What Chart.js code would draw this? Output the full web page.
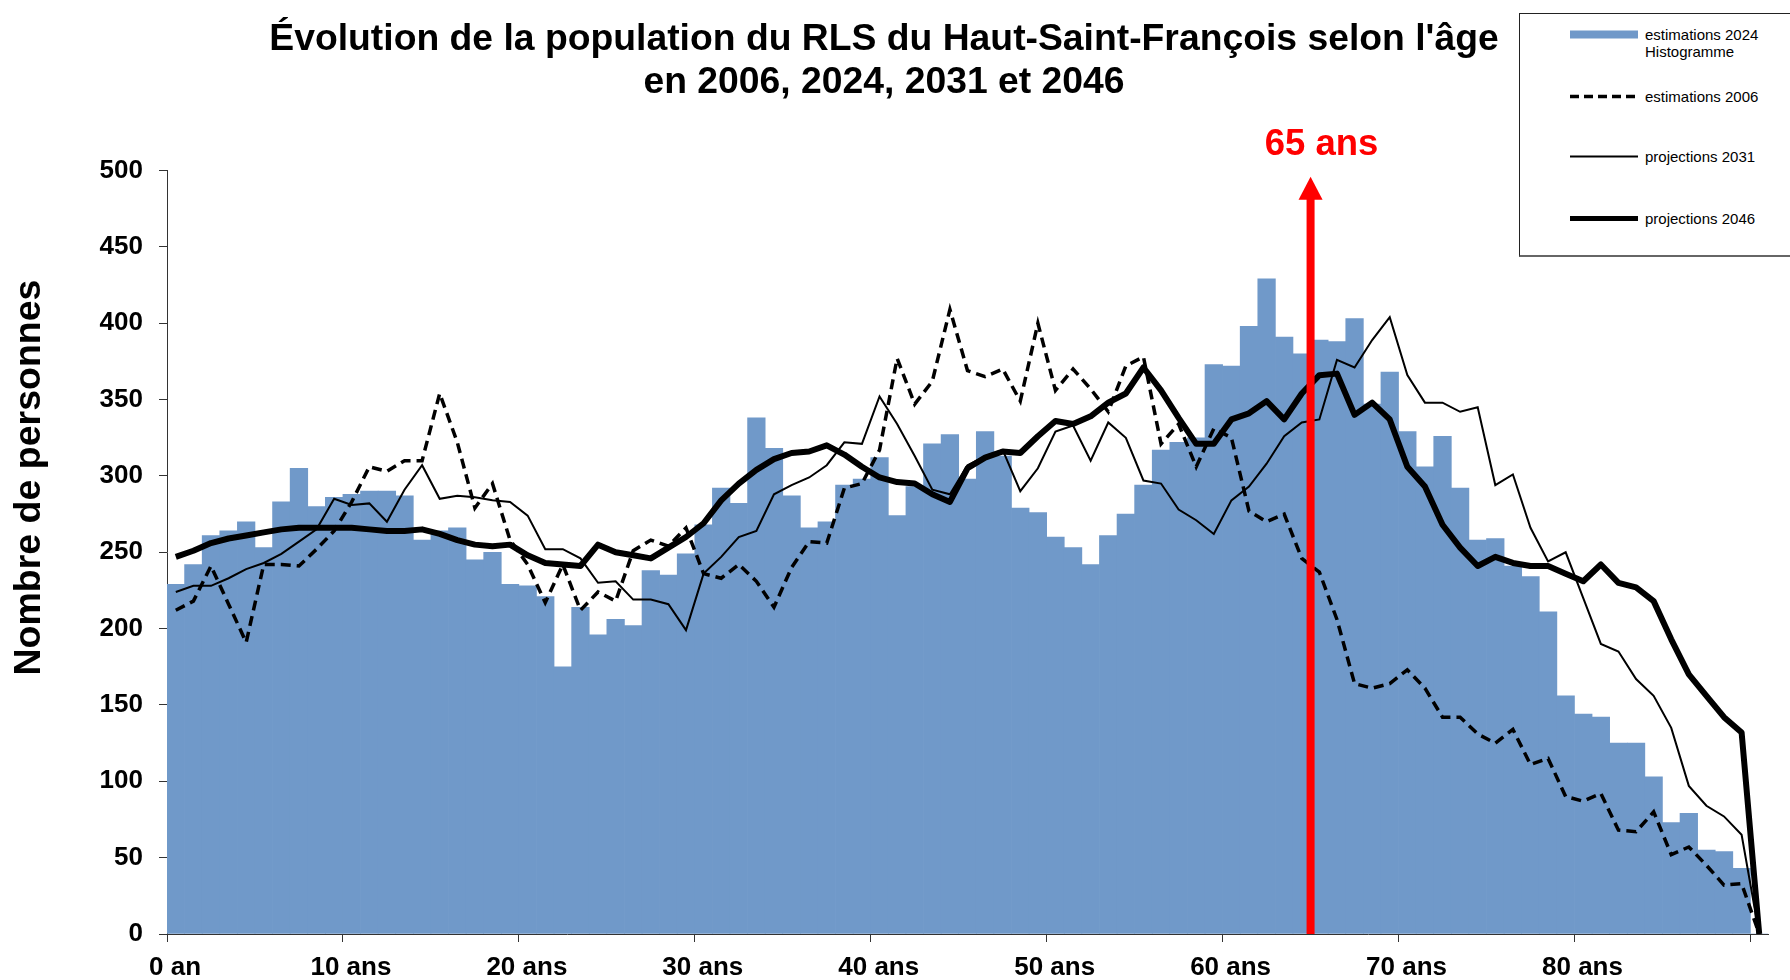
<!DOCTYPE html>
<html lang="fr">
<head>
<meta charset="utf-8">
<title>Évolution de la population du RLS du Haut-Saint-François</title>
<script src="https://cdn.jsdelivr.net/npm/chart.js@4.4.1/dist/chart.umd.min.js"></script>
<style>
  html, body { margin: 0; padding: 0; background: #fff; }
  #wrap { position: relative; width: 1790px; height: 980px; overflow: hidden; }
  #chart { position: absolute; left: 0; top: 0; }
  .legend {
    position: absolute; left: 1519px; top: 13px; width: 300px; height: 241px;
    border: 1px solid #222; border-bottom: 2px solid #666; background: #fff;
    font-family: "Liberation Sans", Arial, sans-serif; font-size: 15px; color: #000;
  }
  .legend .item { position: absolute; left: 50px; height: 17px; line-height: 17px; white-space: nowrap; }
  .legend svg { position: absolute; left: 0; top: 0; }
  .legend span { position: absolute; left: 75px; top: 0; }
</style>
</head>
<body>
<div id="wrap">
  <canvas id="chart" width="1790" height="980"></canvas>
  <div class="legend">
    <div class="item" style="top:12px">
      <svg width="68" height="17"><rect x="0" y="4.5" width="68" height="8" fill="#7099C9"/></svg>
      <span>estimations 2024<br>Histogramme</span>
    </div>
    <div class="item" style="top:74px">
      <svg width="68" height="17"><line x1="0" y1="8.5" x2="68" y2="8.5" stroke="#000" stroke-width="3.5" stroke-dasharray="9 5"/></svg>
      <span>estimations 2006</span>
    </div>
    <div class="item" style="top:134px">
      <svg width="68" height="17"><line x1="0" y1="8.5" x2="68" y2="8.5" stroke="#000" stroke-width="2"/></svg>
      <span>projections 2031</span>
    </div>
    <div class="item" style="top:196px">
      <svg width="68" height="17"><line x1="0" y1="8.5" x2="68" y2="8.5" stroke="#000" stroke-width="5"/></svg>
      <span>projections 2046</span>
    </div>
  </div>
</div>
<script>
// ages (one bar / one point per year of age)
const ages = [0,1,2,3,4,5,6,7,8,9,10,11,12,13,14,15,16,17,18,19,20,21,22,23,24,25,26,27,28,29,
  30,31,32,33,34,35,36,37,38,39,40,41,42,43,44,45,46,47,48,49,50,51,52,53,54,55,56,57,58,59,
  60,61,62,63,64,65,66,67,68,69,70,71,72,73,74,75,76,77,78,79,80,81,82,83,84,85,86,87,88,89,90];

// estimations 2024 (histogramme)
const pop2024 = [229,242,261,264,270,253,283,305,280,286,288,290,290,287,258,264,266,245,250,229,
  228,221,175,214,196,206,202,238,235,249,268,292,282,338,318,287,266,270,294,298,
  312,274,293,321,327,298,329,313,279,276,260,253,242,261,275,294,317,322,325,373,
  372,398,429,391,380,389,388,403,347,368,329,306,326,292,258,259,241,234,211,156,
  144,142,125,125,103,73,79,55,54,43,0];

// estimations 2006
const pop2006 = [212,218,241,216,191,242,242,241,252,264,283,306,303,310,310,354,322,279,295,258,
  242,217,242,212,224,218,251,258,254,266,236,233,242,231,214,240,257,256,292,295,
  317,377,347,362,409,369,365,370,349,400,356,370,357,342,372,378,321,334,306,331,
  325,277,270,275,246,237,206,164,161,164,173,161,142,142,131,125,134,111,115,90,
  87,92,68,67,80,52,57,45,32,33,0];

// projections 2031
const pop2031 = [224,228,228,233,239,243,249,257,265,285,281,282,270,291,307,285,287,286,284,283,
  274,252,252,246,230,231,219,219,216,199,236,247,260,264,288,294,299,307,322,321,
  352,334,313,291,288,307,313,317,290,305,329,333,310,335,325,297,295,278,271,262,
  284,293,308,326,335,337,376,371,389,404,366,348,348,342,345,294,301,266,244,250,
  220,190,185,167,156,135,97,84,77,65,0];

// projections 2046
const pop2046 = [247,251,256,259,261,263,265,266,266,266,266,265,264,264,265,262,258,255,254,255,
  248,243,242,241,255,250,248,246,253,260,269,284,295,304,311,315,316,320,314,306,
  299,296,295,288,283,305,312,316,315,326,336,334,339,348,354,371,356,338,321,321,
  337,341,349,337,354,366,367,340,348,337,306,293,268,253,241,247,243,241,241,236,
  231,242,230,227,218,193,170,156,142,132,0];

const xTickValues = [0,10,20,30,40,50,60,70,80,90];
const xTickLabels = ['0 an','10 ans','20 ans','30 ans','40 ans','50 ans','60 ans','70 ans','80 ans',''];
const yMin = 0, yMax = 500, yStep = 50;

const arrowAge = 65;
const arrowTopValue = 496;
const arrowLabel = '65 ans';
const yTitle = 'Nombre de personnes';

const FONT = '"Liberation Sans", Arial, sans-serif';
Chart.defaults.font.family = FONT;
Chart.defaults.color = '#000';

const toPoints = (vals) => ages.map((a, i) => ({ x: a + 0.5, y: vals[i] }));

// fleche rouge + texte "65 ans" + titre de l'axe Y
const extras = {
  id: 'extras',
  afterDatasetsDraw(chart) {
    const { ctx, scales: { x, y } } = chart;
    const px = x.getPixelForValue(arrowAge);
    const yBase = y.getPixelForValue(0);
    const yTip = y.getPixelForValue(arrowTopValue);
    ctx.save();
    ctx.fillStyle = '#ff0000';
    ctx.fillRect(px - 4, yTip + 20, 8, yBase - yTip - 20);
    ctx.beginPath();
    ctx.moveTo(px, yTip);
    ctx.lineTo(px + 12, yTip + 23);
    ctx.lineTo(px - 12, yTip + 23);
    ctx.closePath();
    ctx.fill();
    ctx.font = 'bold 36.5px ' + FONT;
    ctx.textAlign = 'center';
    ctx.textBaseline = 'middle';
    ctx.fillText(arrowLabel, px + 11, yTip - 32);

    ctx.fillStyle = '#000';
    ctx.font = 'bold 37.5px ' + FONT;
    ctx.translate(30, chart.chartArea.top + 307);
    ctx.rotate(-Math.PI / 2);
    ctx.fillText(yTitle, 0, 0);
    ctx.restore();
  }
};

new Chart(document.getElementById('chart'), {
  type: 'bar',
  data: {
    datasets: [
      {
        type: 'line',
        label: 'projections 2046',
        data: toPoints(pop2046),
        borderColor: '#000',
        borderWidth: 6,
        borderJoinStyle: 'round',
        pointRadius: 0,
        tension: 0,
        order: 1,
      },
      {
        type: 'line',
        label: 'projections 2031',
        data: toPoints(pop2031),
        borderColor: '#000',
        borderWidth: 2,
        pointRadius: 0,
        tension: 0,
        order: 2,
      },
      {
        type: 'line',
        label: 'estimations 2006',
        data: toPoints(pop2006),
        borderColor: '#000',
        borderWidth: 3.5,
        borderDash: [10, 6],
        pointRadius: 0,
        tension: 0,
        order: 3,
      },
      {
        type: 'bar',
        label: 'estimations 2024 Histogramme',
        data: toPoints(pop2024),
        backgroundColor: '#7099C9',
        borderWidth: 0,
        barPercentage: 1,
        categoryPercentage: 1,
        order: 10,
      },
    ],
  },
  options: {
    responsive: false,
    animation: false,
    layout: { padding: { left: 0, right: 22, top: 0, bottom: 0 } },
    plugins: {
      legend: { display: false },
      tooltip: { enabled: false },
      title: {
        display: true,
        text: ["Évolution de la population du RLS du Haut-Saint-François selon l'âge", 'en 2006, 2024, 2031 et 2046'],
        color: '#000',
        font: { size: 37.3, weight: 'bold', lineHeight: 1.16 },
        padding: { top: 18, bottom: 66 },
      },
    },
    scales: {
      x: {
        type: 'linear',
        min: 0,
        max: 91,
        offset: false,
        afterBuildTicks: (scale) => { scale.ticks = xTickValues.map((v) => ({ value: v })); },
        afterFit: (scale) => { scale.height = 46; },
        ticks: {
          callback: (v) => xTickLabels[xTickValues.indexOf(v)] ?? '',
          font: { size: 26, weight: 'bold' },
          color: '#000',
          padding: 10,
          labelOffset: 8,
          maxRotation: 0,
          autoSkip: false,
        },
        grid: { display: true, offset: false, drawOnChartArea: false, drawTicks: true, tickLength: 8, color: '#333' },
        border: { display: true, color: '#333' },
      },
      y: {
        min: yMin,
        max: yMax,
        afterFit: (scale) => { scale.width = 167; },
        ticks: {
          stepSize: yStep,
          font: { size: 26, weight: 'bold' },
          color: '#000',
          padding: 16,
        },
        grid: { display: true, drawOnChartArea: false, drawTicks: true, tickLength: 8, color: '#333' },
        border: { display: true, color: '#333' },
      },
    },
  },
  plugins: [extras],
});
</script>
</body>
</html>
